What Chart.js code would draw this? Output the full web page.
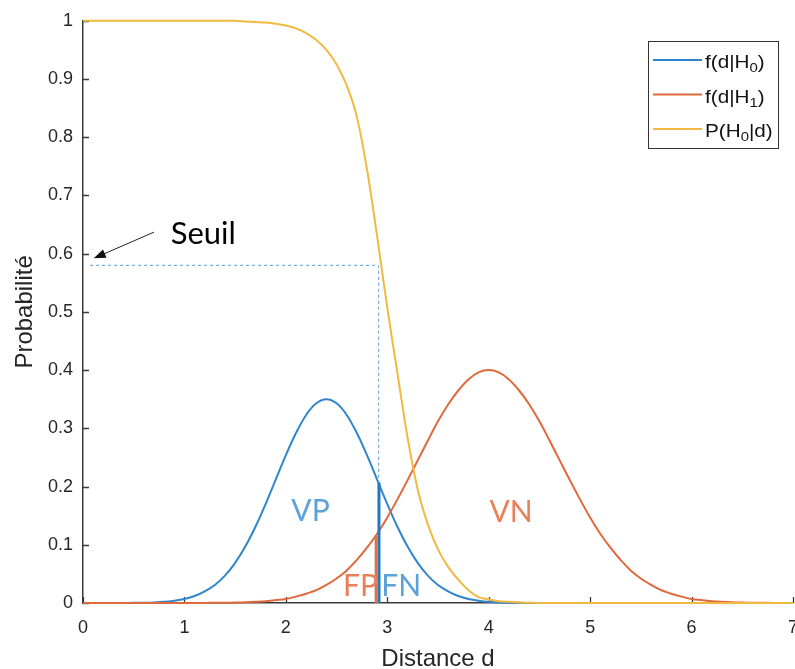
<!DOCTYPE html>
<html>
<head>
<meta charset="utf-8">
<script src="https://cdn.jsdelivr.net/npm/chart.js@4.4.1/dist/chart.umd.min.js"></script>
<style>
html, body { margin: 0; padding: 0; background: #fff; overflow: hidden; }
#wrap { position: relative; width: 812px; height: 669px; }
</style>
</head>
<body>
<div id="wrap"><canvas id="proba" width="812" height="669"></canvas></div>
<script>
// distance d (abscisse), pas de 0.1
const dist = [0.0,0.1,0.2,0.3,0.4,0.5,0.6,0.7,0.8,0.9,
  1.0,1.1,1.2,1.3,1.4,1.5,1.6,1.7,1.8,1.9,
  2.0,2.1,2.2,2.3,2.4,2.5,2.6,2.7,2.8,2.9,
  3.0,3.1,3.2,3.3,3.4,3.5,3.6,3.7,3.8,3.9,
  4.0,4.1,4.2,4.3,4.4,4.5,4.6,4.7,4.8,4.9,
  5.0,5.1,5.2,5.3,5.4,5.5,5.6,5.7,5.8,5.9,
  6.0,6.1,6.2,6.3,6.4,6.5,6.6,6.7,6.8,6.9,7.0];

// f(d|H0)
const fH0 = [0,0,0,0,0,0.0003,0.0005,0.001,0.002,0.004,
  0.007,0.012,0.020,0.031,0.047,0.069,0.097,0.131,0.170,0.212,
  0.254,0.292,0.323,0.343,0.350,0.343,0.323,0.292,0.254,0.212,
  0.170,0.131,0.097,0.069,0.047,0.031,0.020,0.012,0.007,0.004,
  0.002,0.001,0.0005,0.0003,0,0,0,0,0,0,
  0,0,0,0,0,0,0,0,0,0,
  0,0,0,0,0,0,0,0,0,0,0];

// f(d|H1)
const fH1 = [0,0,0,0,0,0,0,0,0,0,
  0,0.0001,0.0002,0.0003,0.0005,0.0008,0.0013,0.002,0.003,0.005,
  0.007,0.011,0.016,0.022,0.031,0.042,0.056,0.074,0.095,0.119,
  0.147,0.178,0.211,0.245,0.279,0.312,0.341,0.365,0.384,0.396,
  0.400,0.396,0.384,0.365,0.341,0.312,0.279,0.245,0.211,0.178,
  0.147,0.119,0.095,0.074,0.056,0.042,0.031,0.022,0.016,0.011,
  0.007,0.005,0.003,0.002,0.0013,0.0008,0.0005,0.0003,0.0002,0.0001,0];

// P(H0|d)
const pH0 = [1,1,1,1,1,1,1,1,1,1,
  1,1,1,1,1,1,0.999,0.998,0.997,0.995,
  0.992,0.987,0.979,0.967,0.950,0.925,0.889,0.835,0.745,0.630,
  0.507,0.395,0.284,0.195,0.135,0.092,0.062,0.040,0.022,0.010,
  0.006,0.003,0.002,0.001,0.0005,0,0,0,0,0,
  0,0,0,0,0,0,0,0,0,0,
  0,0,0,0,0,0,0,0,0,0,0];

// seuil et barres FP / FN
const seuilX = [0.07, 2.915, 2.915];
const seuilY = [0.58, 0.58, 0.207];
const fnX = [2.918, 2.918];
const fnY = [0, 0.207];
const fpX = [2.89, 2.89];
const fpY = [0, 0.115];

const xTicks = [0, 1, 2, 3, 4, 5, 6, 7];

const legendItems = [
  { parts: [['f(d|H', 0], ['0', 1], [')', 0]], color: '#2f86cc' },
  { parts: [['f(d|H', 0], ['1', 1], [')', 0]], color: '#e0693c' },
  { parts: [['P(H', 0], ['0', 1], ['|d)', 0]], color: '#f0ba40' }
];

const zones = [
  { text: 'VP', x: 2.243, y: 0.140, color: '#5aa2d8' },
  { text: 'VN', x: 4.22, y: 0.139, color: '#e9805a' },
  { text: 'FP', x: 2.737, y: 0.012, color: '#e9805a' },
  { text: 'FN', x: 3.137, y: 0.012, color: '#5aa2d8' }
];

const pts = (xs, ys) => xs.map((v, i) => ({ x: v, y: ys[i] }));

const decor = {
  id: 'decor',
  beforeDatasetsDraw(chart) {
    const { ctx, scales: { x, y }, chartArea: a } = chart;
    ctx.save();
    ctx.strokeStyle = '#3a3a3a';
    ctx.lineWidth = 1.3;
    ctx.beginPath();
    for (let v = 0; v <= 10; v++) {
      const py = Math.round(y.getPixelForValue(v / 10)) + 0.5;
      ctx.moveTo(a.left, py); ctx.lineTo(a.left + 6, py);
    }
    xTicks.forEach(v => {
      const px = Math.round(x.getPixelForValue(v)) + 0.5;
      ctx.moveTo(px, a.bottom); ctx.lineTo(px, a.bottom - 6);
    });
    ctx.stroke();
    ctx.restore();
  },
  afterDraw(chart) {
    const { ctx, scales: { x, y } } = chart;
    ctx.save();
    // textes des zones
    ctx.textAlign = 'center';
    ctx.textBaseline = 'alphabetic';
    ctx.font = '30px Lato';
    zones.forEach(z => {
      ctx.fillStyle = z.color;
      ctx.fillText(z.text, x.getPixelForValue(z.x), y.getPixelForValue(z.y));
    });
    // Seuil + fleche
    ctx.fillStyle = '#000';
    ctx.textAlign = 'left';
    ctx.font = '31px Lato';
    ctx.fillText('Seuil', x.getPixelForValue(0.865), y.getPixelForValue(0.617));
    const x0 = x.getPixelForValue(0.70), y0 = y.getPixelForValue(0.637);
    const x1 = x.getPixelForValue(0.106), y1 = y.getPixelForValue(0.592);
    const ang = Math.atan2(y1 - y0, x1 - x0);
    ctx.strokeStyle = '#222';
    ctx.lineWidth = 1;
    ctx.beginPath();
    ctx.moveTo(x0, y0);
    ctx.lineTo(x1 - 9 * Math.cos(ang), y1 - 9 * Math.sin(ang));
    ctx.stroke();
    ctx.fillStyle = '#111';
    ctx.beginPath();
    ctx.moveTo(x1, y1);
    ctx.lineTo(x1 - 12 * Math.cos(ang) + 4.5 * Math.sin(ang), y1 - 12 * Math.sin(ang) - 4.5 * Math.cos(ang));
    ctx.lineTo(x1 - 12 * Math.cos(ang) - 4.5 * Math.sin(ang), y1 - 12 * Math.sin(ang) + 4.5 * Math.cos(ang));
    ctx.closePath();
    ctx.fill();
    // legende
    ctx.fillStyle = '#fff';
    ctx.fillRect(648.5, 41.5, 130, 107);
    ctx.strokeStyle = '#333';
    ctx.strokeRect(648.5, 41.5, 130, 107);
    const rowY = [60, 94.5, 129];
    legendItems.forEach((it, i) => {
      const ly = rowY[i];
      ctx.strokeStyle = it.color;
      ctx.lineWidth = 2;
      ctx.beginPath();
      ctx.moveTo(653, ly); ctx.lineTo(702, ly);
      ctx.stroke();
      ctx.save();
      ctx.translate(705, 0);
      ctx.scale(1.15, 1);
      let tx = 0;
      ctx.fillStyle = '#111';
      ctx.textAlign = 'left';
      it.parts.forEach(([t, sub]) => {
        ctx.font = sub ? '13px "Liberation Sans"' : '18px "Liberation Sans"';
        ctx.fillText(t, tx, ly + (sub ? 12 : 8));
        tx += ctx.measureText(t).width;
      });
      ctx.restore();
    });
    ctx.restore();
  }
};

const curve = (data, color, order) => ({
  data, borderColor: color, borderWidth: 2, pointRadius: 0,
  tension: 0.3, clip: false, order
});

new Chart(document.getElementById('proba').getContext('2d'), {
  type: 'line',
  data: {
    datasets: [
      curve(pts(dist, fH0), '#2f86cc', 4),
      curve(pts(dist, fH1), '#e0693c', 3),
      curve(pts(dist, pH0), '#f0ba40', 2),
      { data: pts(seuilX, seuilY), borderColor: '#5b9bd5', borderWidth: 1,
        borderDash: [3, 3], pointRadius: 0, clip: false, order: 1 },
      { data: pts(fpX, fpY), borderColor: '#e07048', borderWidth: 3,
        pointRadius: 0, clip: false, order: 0 },
      { data: pts(fnX, fnY), borderColor: '#1f78c2', borderWidth: 3,
        pointRadius: 0, clip: false, order: 0 }
    ]
  },
  options: {
    responsive: false,
    animation: false,
    layout: { padding: { top: 19, right: 15, left: 0, bottom: 0 } },
    plugins: { legend: { display: false }, tooltip: { enabled: false } },
    scales: {
      x: {
        type: 'linear', min: 0, max: 7,
        afterFit: s => { s.height = 66; },
        ticks: { stepSize: 1, padding: 14, color: '#262626',
          font: { family: 'Liberation Sans', size: 18 } },
        grid: { display: true, drawOnChartArea: false, drawTicks: false },
        border: { color: '#3a3a3a', width: 1.5 },
        title: { display: true, text: 'Distance d', color: '#262626',
          font: { family: 'Liberation Sans', size: 24, lineHeight: 1 }, padding: { top: 0, bottom: -2 } }
      },
      y: {
        min: 0, max: 1,
        afterFit: s => { s.width = 83; },
        ticks: { stepSize: 0.1, padding: 10, color: '#262626',
          font: { family: 'Liberation Sans', size: 18 },
          callback: v => String(Math.round(v * 10) / 10) },
        grid: { display: true, drawOnChartArea: false, drawTicks: false },
        border: { color: '#3a3a3a', width: 1.5 },
        title: { display: true, text: 'Probabilité', color: '#262626',
          font: { family: 'Liberation Sans', size: 24, lineHeight: 1 }, padding: { top: 13, bottom: 0 } }
      }
    }
  },
  plugins: [decor]
});
</script>
</body>
</html>
